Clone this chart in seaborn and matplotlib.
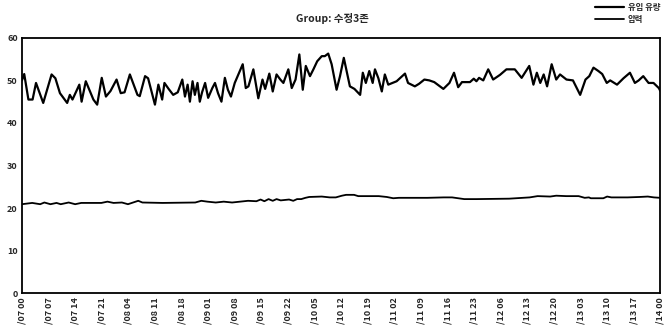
# Import libraries
import pandas as pd
import matplotlib
matplotlib.use('Agg')
import matplotlib.pyplot as plt
import seaborn as sns

# Chart data (hours since 07 00)
title_text = 'Group: 수정3존'
legend_labels = ['유입 유량', '압력']

upper_hours = [0, 0.6, 1.7, 2.8, 3.7, 5.6, 7.8, 8.8, 10, 11.9, 12.6, 13.3, 15.1, 15.7,
               16.8, 18.8, 19.8, 21, 22.1, 23.3, 24.9, 26, 27, 28.4, 30.4, 31, 32.4,
               33.2, 34.1, 35, 35.9, 36.9, 37.5, 38.6, 39.8, 41, 42.2, 42.9, 43.6, 44.2,
               44.9, 45.5, 46.2, 46.8, 47.4, 48.2, 49, 50.1, 50.8, 51.6, 52.5, 53.4,
               54.2, 55, 56, 58.1, 58.9, 59.6, 60.9, 62.2, 63.3, 64, 65.1, 66, 67, 68,
               68.8, 70.1, 71, 72, 73, 73.9, 74.7, 75.8, 76.7, 77.7, 78.9, 79.7, 80.6,
               81.5, 82.8, 83.7, 84.7, 86.3, 87.5, 89, 89.7, 90.5, 91.4, 92.3, 92.9,
               93.8, 94.7, 95.5, 96.4, 97.5, 98.6, 100.8, 101.6, 103.4, 104.5, 105.9,
               107.2, 108.5, 110.9, 112.5, 113.7, 114.8, 115.8, 117.9, 118.9, 119.6,
               120.3, 121.4, 122.7, 124, 125.8, 127.5, 129.7, 131.5, 133.5, 134.6,
               135.5, 136.4, 137.3, 138.2, 139.4, 140.6, 141.6, 143.3, 145, 146.9,
               148.3, 149.3, 150.4, 151.7, 152.7, 153.9, 154.8, 156.6, 158.3, 160,
               161.3, 162.3, 163.5, 164.9, 166.2, 167.6, 168]
upper_values = [50, 51.5, 45.5, 45.5, 49.4, 44.7, 51.4, 50.5, 47, 44.7, 46.6, 45.5, 49,
                45, 49.8, 45.5, 44.3, 50.6, 46.2, 47.5, 50.2, 47, 47.2, 51.4, 46.6, 46.3,
                51, 50.5, 47.4, 44.3, 49, 45.5, 49.4, 48, 46.6, 47.2, 50.2, 46.2, 49, 45,
                49.8, 46.6, 49.4, 45, 47.2, 49.4, 45.9, 48.2, 49.4, 47, 45, 50.6, 47.8,
                46.2, 49.4, 53.8, 48.2, 48.6, 52.6, 45.8, 50.2, 48, 51.6, 47.4, 51.4,
                50.2, 49.4, 52.6, 48.2, 50.2, 56.1, 47.8, 53.4, 51, 52.6, 54.5, 55.7,
                55.7, 56.3, 53.8, 47.8, 51, 55.3, 48.6, 48, 46.6, 51.8, 49.4, 52.2, 49.4,
                52.6, 50.5, 47.4, 51.4, 49, 49.4, 49.8, 51.6, 49.4, 48.6, 49.2, 50.2, 50,
                49.6, 48, 49.4, 51.8, 48.4, 49.6, 49.6, 50.4, 49.8, 50.6, 50, 52.6, 50.2,
                51.3, 52.6, 52.6, 50.6, 53.4, 49, 51.8, 49.4, 51.4, 48.6, 53.8, 50.2,
                51.4, 50.2, 50, 46.6, 50.2, 51, 53, 52.2, 51.5, 49.4, 50, 49, 50.5, 51.8,
                49.4, 50, 51, 49.4, 49.4, 48.2, 47.5]

lower_hours = [0, 2.7, 4.8, 5.9, 7.5, 9.1, 10.2, 12.3, 14, 15.6, 20.9, 22.5, 24.1, 26.3,
               27.9, 30.6, 31.7, 37, 45.6, 47.2, 48.8, 51, 53.1, 55.3, 57.4, 59.5, 61.7,
               62.8, 63.8, 64.9, 66, 67, 68.1, 70.3, 71.4, 72.4, 73.5, 74.6, 75.6, 78.9,
               81, 82.6, 84.2, 85.3, 87.4, 88.5, 93.9, 96, 97.7, 99.2, 106.7, 111,
               113.2, 116.4, 119.6, 128.2, 133.6, 135.7, 139, 140.6, 143.2, 146.5,
               148.1, 149.2, 149.7, 153, 154, 155.1, 159.4, 162.5, 164.7, 166.3, 168]
lower_values = [20.9, 21.2, 20.9, 21.3, 20.9, 21.2, 20.9, 21.3, 20.9, 21.2, 21.2, 21.5,
                21.2, 21.3, 20.9, 21.7, 21.3, 21.2, 21.3, 21.7, 21.5, 21.3, 21.5, 21.3,
                21.5, 21.7, 21.6, 22.0, 21.6, 22.1, 21.7, 22.1, 21.8, 22.0, 21.7, 22.1,
                22.1, 22.4, 22.6, 22.7, 22.5, 22.5, 22.9, 23.1, 23.1, 22.8, 22.8, 22.6,
                22.3, 22.4, 22.4, 22.5, 22.5, 22.1, 22.1, 22.2, 22.5, 22.8, 22.7, 22.9,
                22.8, 22.8, 22.4, 22.5, 22.3, 22.3, 22.7, 22.5, 22.5, 22.6, 22.7, 22.5,
                22.4]

tick_hours = [0, 7, 14, 21, 28, 35, 42, 49, 56, 63, 70, 77, 84, 91, 98, 105, 112, 119,
              126, 133, 140, 147, 154, 161, 168]
tick_labels = ['/07 00', '/07 07', '/07 14', '/07 21', '/08 04', '/08 11', '/08 18',
               '/09 01', '/09 08', '/09 15', '/09 22', '/10 05', '/10 12', '/10 19',
               '/11 02', '/11 09', '/11 16', '/11 23', '/12 06', '/12 13', '/12 20',
               '/13 03', '/13 10', '/13 17', '/14 00']
y_ticks = [0, 10, 20, 30, 40, 50, 60]


def plot_chart():
    sns.set_style('white')
    plt.rcParams['font.family'] = ['Noto Sans CJK KR', 'DejaVu Sans']

    df_upper = pd.DataFrame({'Hour': upper_hours, 'Value': upper_values})
    df_lower = pd.DataFrame({'Hour': lower_hours, 'Value': lower_values})

    fig = plt.figure(figsize=(6.65, 3.35), dpi=100)
    ax = fig.add_axes([0.033, 0.125, 0.96, 0.762])

    sns.lineplot(data=df_upper, x='Hour', y='Value', color='black', linewidth=1.6,
                 estimator=None, label=legend_labels[0], legend=False, ax=ax)
    sns.lineplot(data=df_lower, x='Hour', y='Value', color='black', linewidth=1.3,
                 estimator=None, label=legend_labels[1], legend=False, ax=ax)

    ax.set_xlim(0, 168)
    ax.set_ylim(0, 60)
    ax.set_xticks(tick_hours)
    ax.set_xticklabels(tick_labels, rotation=90, fontsize=6.5, fontweight='bold')
    ax.set_yticks(y_ticks)
    ax.set_yticklabels([str(v) for v in y_ticks], fontsize=6.5, fontweight='bold')
    ax.tick_params(length=0, pad=3)
    ax.set_xlabel('')
    ax.set_ylabel('')
    for spine in ax.spines.values():
        spine.set_color('black')
        spine.set_linewidth(1.3)

    # Title and legend
    fig.text(0.5, 0.945, title_text, ha='center', va='center', fontsize=7.5,
             fontweight='bold')
    handles, labels = ax.get_legend_handles_labels()
    leg = fig.legend(handles, labels, loc='upper right', bbox_to_anchor=(0.995, 0.995),
                     frameon=False, handlelength=3.5, labelspacing=0.3,
                     handletextpad=0.4, borderaxespad=0.0, borderpad=0.2,
                     prop={'size': 6, 'weight': 'bold'})
    for text in leg.get_texts():
        text.set_rotation(0)

    fig.savefig('out.png', dpi=100)


# Main function
if __name__ == "__main__":
    plot_chart()
